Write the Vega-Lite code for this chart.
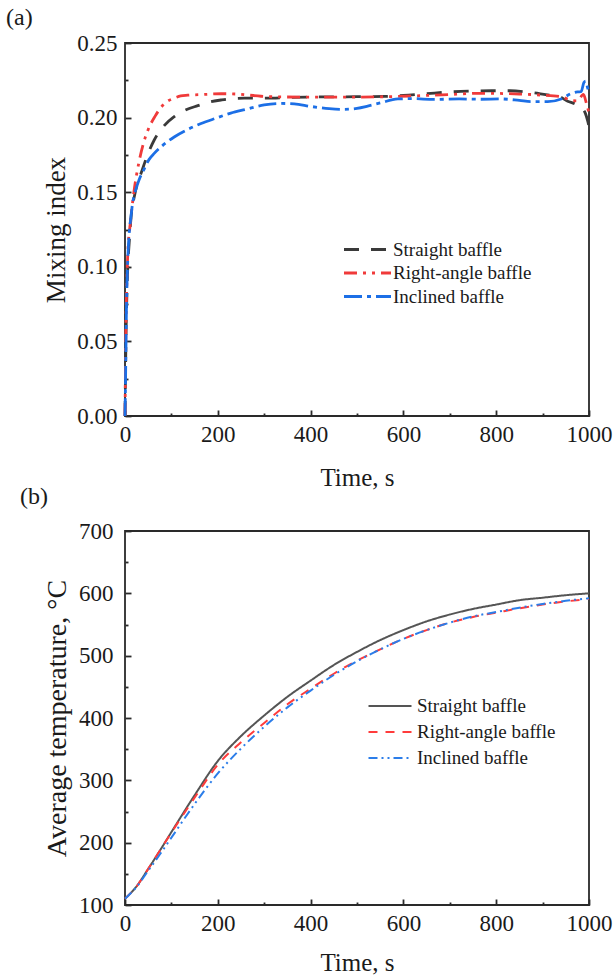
{
  "$schema": "https://vega.github.io/schema/vega-lite/v6.json",
  "background": "white",
  "padding": {"left": 5, "top": 5, "right": 5, "bottom": 5},
  "config": {
    "font": "Liberation Serif",
    "view": {"stroke": "#2a2a2a", "strokeWidth": 1.8},
    "axis": {
      "domain": false, "grid": false,
      "labelFont": "Liberation Serif", "labelFontSize": 23, "labelColor": "#1a1a1a",
      "titleFont": "Liberation Serif", "titleFontSize": 25, "titleFontWeight": "normal", "titleColor": "#1a1a1a",
      "tickColor": "#2a2a2a", "tickWidth": 1.8, "labelFlush": false, "labelOverlap": false
    },
    "legend": {
      "orient": "none", "title": null, "padding": 0,
      "labelFont": "Liberation Serif", "labelFontSize": 19, "labelColor": "#1a1a1a"
    },
    "title": {"font": "Liberation Serif", "fontSize": 24, "fontWeight": "normal", "color": "#1a1a1a"}
  },
  "datasets": {
    "mix": [
      {"baffle": "Straight baffle", "time": 0, "mixing": 0},
      {"baffle": "Straight baffle", "time": 1, "mixing": 0.025},
      {"baffle": "Straight baffle", "time": 2, "mixing": 0.05},
      {"baffle": "Straight baffle", "time": 4, "mixing": 0.08},
      {"baffle": "Straight baffle", "time": 6, "mixing": 0.1},
      {"baffle": "Straight baffle", "time": 9, "mixing": 0.116},
      {"baffle": "Straight baffle", "time": 13, "mixing": 0.133},
      {"baffle": "Straight baffle", "time": 20, "mixing": 0.147},
      {"baffle": "Straight baffle", "time": 28, "mixing": 0.157},
      {"baffle": "Straight baffle", "time": 35, "mixing": 0.163},
      {"baffle": "Straight baffle", "time": 45, "mixing": 0.172},
      {"baffle": "Straight baffle", "time": 63, "mixing": 0.185},
      {"baffle": "Straight baffle", "time": 80, "mixing": 0.193},
      {"baffle": "Straight baffle", "time": 106, "mixing": 0.2006},
      {"baffle": "Straight baffle", "time": 130, "mixing": 0.205},
      {"baffle": "Straight baffle", "time": 157, "mixing": 0.208},
      {"baffle": "Straight baffle", "time": 180, "mixing": 0.2103},
      {"baffle": "Straight baffle", "time": 207, "mixing": 0.2118},
      {"baffle": "Straight baffle", "time": 230, "mixing": 0.2127},
      {"baffle": "Straight baffle", "time": 257, "mixing": 0.213},
      {"baffle": "Straight baffle", "time": 307, "mixing": 0.213},
      {"baffle": "Straight baffle", "time": 350, "mixing": 0.2135},
      {"baffle": "Straight baffle", "time": 400, "mixing": 0.2138},
      {"baffle": "Straight baffle", "time": 500, "mixing": 0.214},
      {"baffle": "Straight baffle", "time": 560, "mixing": 0.2142},
      {"baffle": "Straight baffle", "time": 600, "mixing": 0.2148},
      {"baffle": "Straight baffle", "time": 650, "mixing": 0.216},
      {"baffle": "Straight baffle", "time": 700, "mixing": 0.2172},
      {"baffle": "Straight baffle", "time": 750, "mixing": 0.2178},
      {"baffle": "Straight baffle", "time": 790, "mixing": 0.218},
      {"baffle": "Straight baffle", "time": 830, "mixing": 0.218},
      {"baffle": "Straight baffle", "time": 870, "mixing": 0.217},
      {"baffle": "Straight baffle", "time": 918, "mixing": 0.215},
      {"baffle": "Straight baffle", "time": 933, "mixing": 0.2145},
      {"baffle": "Straight baffle", "time": 954, "mixing": 0.211},
      {"baffle": "Straight baffle", "time": 970, "mixing": 0.2092},
      {"baffle": "Straight baffle", "time": 983, "mixing": 0.2068},
      {"baffle": "Straight baffle", "time": 992, "mixing": 0.203},
      {"baffle": "Straight baffle", "time": 997, "mixing": 0.198},
      {"baffle": "Straight baffle", "time": 1000, "mixing": 0.194},

      {"baffle": "Right-angle baffle", "time": 0, "mixing": 0},
      {"baffle": "Right-angle baffle", "time": 1, "mixing": 0.03},
      {"baffle": "Right-angle baffle", "time": 2, "mixing": 0.06},
      {"baffle": "Right-angle baffle", "time": 4, "mixing": 0.09},
      {"baffle": "Right-angle baffle", "time": 7, "mixing": 0.115},
      {"baffle": "Right-angle baffle", "time": 10, "mixing": 0.125},
      {"baffle": "Right-angle baffle", "time": 13, "mixing": 0.134},
      {"baffle": "Right-angle baffle", "time": 20, "mixing": 0.152},
      {"baffle": "Right-angle baffle", "time": 30, "mixing": 0.17},
      {"baffle": "Right-angle baffle", "time": 40, "mixing": 0.183},
      {"baffle": "Right-angle baffle", "time": 50, "mixing": 0.192},
      {"baffle": "Right-angle baffle", "time": 65, "mixing": 0.201},
      {"baffle": "Right-angle baffle", "time": 78, "mixing": 0.207},
      {"baffle": "Right-angle baffle", "time": 92, "mixing": 0.211},
      {"baffle": "Right-angle baffle", "time": 106, "mixing": 0.213},
      {"baffle": "Right-angle baffle", "time": 120, "mixing": 0.2145},
      {"baffle": "Right-angle baffle", "time": 135, "mixing": 0.215},
      {"baffle": "Right-angle baffle", "time": 170, "mixing": 0.2155},
      {"baffle": "Right-angle baffle", "time": 207, "mixing": 0.216},
      {"baffle": "Right-angle baffle", "time": 240, "mixing": 0.2158},
      {"baffle": "Right-angle baffle", "time": 293, "mixing": 0.2143},
      {"baffle": "Right-angle baffle", "time": 350, "mixing": 0.2138},
      {"baffle": "Right-angle baffle", "time": 422, "mixing": 0.2137},
      {"baffle": "Right-angle baffle", "time": 500, "mixing": 0.2137},
      {"baffle": "Right-angle baffle", "time": 560, "mixing": 0.214},
      {"baffle": "Right-angle baffle", "time": 620, "mixing": 0.2145},
      {"baffle": "Right-angle baffle", "time": 700, "mixing": 0.2155},
      {"baffle": "Right-angle baffle", "time": 767, "mixing": 0.2163},
      {"baffle": "Right-angle baffle", "time": 850, "mixing": 0.2158},
      {"baffle": "Right-angle baffle", "time": 897, "mixing": 0.2151},
      {"baffle": "Right-angle baffle", "time": 940, "mixing": 0.214},
      {"baffle": "Right-angle baffle", "time": 962, "mixing": 0.2115},
      {"baffle": "Right-angle baffle", "time": 975, "mixing": 0.2112},
      {"baffle": "Right-angle baffle", "time": 988, "mixing": 0.2155},
      {"baffle": "Right-angle baffle", "time": 994, "mixing": 0.21},
      {"baffle": "Right-angle baffle", "time": 1000, "mixing": 0.203},

      {"baffle": "Inclined baffle", "time": 0, "mixing": 0},
      {"baffle": "Inclined baffle", "time": 1, "mixing": 0.02},
      {"baffle": "Inclined baffle", "time": 2, "mixing": 0.045},
      {"baffle": "Inclined baffle", "time": 3, "mixing": 0.07},
      {"baffle": "Inclined baffle", "time": 4, "mixing": 0.085},
      {"baffle": "Inclined baffle", "time": 6, "mixing": 0.105},
      {"baffle": "Inclined baffle", "time": 9, "mixing": 0.122},
      {"baffle": "Inclined baffle", "time": 13, "mixing": 0.134},
      {"baffle": "Inclined baffle", "time": 16.5, "mixing": 0.143},
      {"baffle": "Inclined baffle", "time": 20, "mixing": 0.148},
      {"baffle": "Inclined baffle", "time": 30, "mixing": 0.158},
      {"baffle": "Inclined baffle", "time": 42, "mixing": 0.166},
      {"baffle": "Inclined baffle", "time": 52, "mixing": 0.172},
      {"baffle": "Inclined baffle", "time": 63, "mixing": 0.176},
      {"baffle": "Inclined baffle", "time": 80, "mixing": 0.181},
      {"baffle": "Inclined baffle", "time": 106, "mixing": 0.187},
      {"baffle": "Inclined baffle", "time": 135, "mixing": 0.192},
      {"baffle": "Inclined baffle", "time": 164, "mixing": 0.196},
      {"baffle": "Inclined baffle", "time": 195, "mixing": 0.1995},
      {"baffle": "Inclined baffle", "time": 228, "mixing": 0.203},
      {"baffle": "Inclined baffle", "time": 260, "mixing": 0.2055},
      {"baffle": "Inclined baffle", "time": 300, "mixing": 0.2085},
      {"baffle": "Inclined baffle", "time": 335, "mixing": 0.2095},
      {"baffle": "Inclined baffle", "time": 365, "mixing": 0.2092},
      {"baffle": "Inclined baffle", "time": 400, "mixing": 0.2075},
      {"baffle": "Inclined baffle", "time": 440, "mixing": 0.206},
      {"baffle": "Inclined baffle", "time": 470, "mixing": 0.2055},
      {"baffle": "Inclined baffle", "time": 500, "mixing": 0.2062},
      {"baffle": "Inclined baffle", "time": 523, "mixing": 0.2077},
      {"baffle": "Inclined baffle", "time": 550, "mixing": 0.2098},
      {"baffle": "Inclined baffle", "time": 588, "mixing": 0.2125},
      {"baffle": "Inclined baffle", "time": 620, "mixing": 0.2127},
      {"baffle": "Inclined baffle", "time": 666, "mixing": 0.2122},
      {"baffle": "Inclined baffle", "time": 720, "mixing": 0.2125},
      {"baffle": "Inclined baffle", "time": 767, "mixing": 0.2123},
      {"baffle": "Inclined baffle", "time": 810, "mixing": 0.2125},
      {"baffle": "Inclined baffle", "time": 850, "mixing": 0.2115},
      {"baffle": "Inclined baffle", "time": 875, "mixing": 0.2107},
      {"baffle": "Inclined baffle", "time": 911, "mixing": 0.2107},
      {"baffle": "Inclined baffle", "time": 940, "mixing": 0.2125},
      {"baffle": "Inclined baffle", "time": 961, "mixing": 0.216},
      {"baffle": "Inclined baffle", "time": 975, "mixing": 0.2172},
      {"baffle": "Inclined baffle", "time": 983, "mixing": 0.2174},
      {"baffle": "Inclined baffle", "time": 989, "mixing": 0.2235},
      {"baffle": "Inclined baffle", "time": 993, "mixing": 0.2245},
      {"baffle": "Inclined baffle", "time": 997, "mixing": 0.22},
      {"baffle": "Inclined baffle", "time": 1000, "mixing": 0.217}
    ],
    "temp": [
      {"baffle": "Straight baffle", "time": 0, "temperature": 110},
      {"baffle": "Straight baffle", "time": 25, "temperature": 130},
      {"baffle": "Straight baffle", "time": 50, "temperature": 158},
      {"baffle": "Straight baffle", "time": 75, "temperature": 187},
      {"baffle": "Straight baffle", "time": 100, "temperature": 217},
      {"baffle": "Straight baffle", "time": 150, "temperature": 276},
      {"baffle": "Straight baffle", "time": 200, "temperature": 331},
      {"baffle": "Straight baffle", "time": 250, "temperature": 371},
      {"baffle": "Straight baffle", "time": 300, "temperature": 404},
      {"baffle": "Straight baffle", "time": 350, "temperature": 434},
      {"baffle": "Straight baffle", "time": 400, "temperature": 460},
      {"baffle": "Straight baffle", "time": 450, "temperature": 485},
      {"baffle": "Straight baffle", "time": 500, "temperature": 506},
      {"baffle": "Straight baffle", "time": 550, "temperature": 525},
      {"baffle": "Straight baffle", "time": 600, "temperature": 541},
      {"baffle": "Straight baffle", "time": 650, "temperature": 555},
      {"baffle": "Straight baffle", "time": 700, "temperature": 566},
      {"baffle": "Straight baffle", "time": 750, "temperature": 575},
      {"baffle": "Straight baffle", "time": 800, "temperature": 582},
      {"baffle": "Straight baffle", "time": 850, "temperature": 589},
      {"baffle": "Straight baffle", "time": 900, "temperature": 593},
      {"baffle": "Straight baffle", "time": 950, "temperature": 597},
      {"baffle": "Straight baffle", "time": 1000, "temperature": 600},

      {"baffle": "Right-angle baffle", "time": 0, "temperature": 110},
      {"baffle": "Right-angle baffle", "time": 25, "temperature": 130},
      {"baffle": "Right-angle baffle", "time": 50, "temperature": 158},
      {"baffle": "Right-angle baffle", "time": 75, "temperature": 187},
      {"baffle": "Right-angle baffle", "time": 100, "temperature": 216},
      {"baffle": "Right-angle baffle", "time": 150, "temperature": 272},
      {"baffle": "Right-angle baffle", "time": 200, "temperature": 325},
      {"baffle": "Right-angle baffle", "time": 250, "temperature": 361},
      {"baffle": "Right-angle baffle", "time": 300, "temperature": 392},
      {"baffle": "Right-angle baffle", "time": 350, "temperature": 422},
      {"baffle": "Right-angle baffle", "time": 400, "temperature": 447},
      {"baffle": "Right-angle baffle", "time": 450, "temperature": 471},
      {"baffle": "Right-angle baffle", "time": 500, "temperature": 492},
      {"baffle": "Right-angle baffle", "time": 550, "temperature": 510},
      {"baffle": "Right-angle baffle", "time": 600, "temperature": 527},
      {"baffle": "Right-angle baffle", "time": 650, "temperature": 541},
      {"baffle": "Right-angle baffle", "time": 700, "temperature": 553},
      {"baffle": "Right-angle baffle", "time": 750, "temperature": 562},
      {"baffle": "Right-angle baffle", "time": 800, "temperature": 569},
      {"baffle": "Right-angle baffle", "time": 850, "temperature": 576},
      {"baffle": "Right-angle baffle", "time": 900, "temperature": 582},
      {"baffle": "Right-angle baffle", "time": 950, "temperature": 587},
      {"baffle": "Right-angle baffle", "time": 1000, "temperature": 591},

      {"baffle": "Inclined baffle", "time": 0, "temperature": 110},
      {"baffle": "Inclined baffle", "time": 25, "temperature": 129},
      {"baffle": "Inclined baffle", "time": 50, "temperature": 155},
      {"baffle": "Inclined baffle", "time": 75, "temperature": 181},
      {"baffle": "Inclined baffle", "time": 100, "temperature": 208},
      {"baffle": "Inclined baffle", "time": 150, "temperature": 262},
      {"baffle": "Inclined baffle", "time": 200, "temperature": 311},
      {"baffle": "Inclined baffle", "time": 250, "temperature": 351},
      {"baffle": "Inclined baffle", "time": 300, "temperature": 386},
      {"baffle": "Inclined baffle", "time": 350, "temperature": 417},
      {"baffle": "Inclined baffle", "time": 400, "temperature": 444},
      {"baffle": "Inclined baffle", "time": 450, "temperature": 469},
      {"baffle": "Inclined baffle", "time": 500, "temperature": 491},
      {"baffle": "Inclined baffle", "time": 550, "temperature": 510},
      {"baffle": "Inclined baffle", "time": 600, "temperature": 527},
      {"baffle": "Inclined baffle", "time": 650, "temperature": 541},
      {"baffle": "Inclined baffle", "time": 700, "temperature": 553},
      {"baffle": "Inclined baffle", "time": 750, "temperature": 563},
      {"baffle": "Inclined baffle", "time": 800, "temperature": 570},
      {"baffle": "Inclined baffle", "time": 850, "temperature": 577},
      {"baffle": "Inclined baffle", "time": 900, "temperature": 583},
      {"baffle": "Inclined baffle", "time": 950, "temperature": 588},
      {"baffle": "Inclined baffle", "time": 1000, "temperature": 592}
    ]
  },
  "bounds": "flush",
  "spacing": 115,
  "resolve": {
    "scale": {"color": "independent", "strokeDash": "independent"},
    "legend": {"color": "independent", "strokeDash": "independent"}
  },
  "vconcat": [
    {
      "width": 464,
      "height": 373,
      "title": {"text": "(a)", "anchor": "start", "frame": "group", "dx": -119, "offset": -17, "baseline": "alphabetic"},
      "data": {"name": "mix"},
      "mark": {"type": "line", "strokeWidth": 2.8, "interpolate": "monotone"},
      "encoding": {
        "x": {
          "field": "time", "type": "quantitative",
          "scale": {"domain": [0, 1000], "nice": false},
          "axis": {
            "title": "Time, s",
            "values": [0, 100, 200, 300, 400, 500, 600, 700, 800, 900, 1000],
            "labelExpr": "datum.value % 200 === 0 ? format(datum.value, 'd') : ''",
            "tickSize": {"condition": {"test": "datum.value % 200 !== 0", "value": -3}, "value": -6},
            "labelPadding": 13,
            "titlePadding": 16
          }
        },
        "y": {
          "field": "mixing", "type": "quantitative",
          "scale": {"domain": [0, 0.25], "nice": false},
          "axis": {
            "title": "Mixing index",
            "titleFontSize": 27,
            "values": [0, 0.025, 0.05, 0.075, 0.1, 0.125, 0.15, 0.175, 0.2, 0.225, 0.25],
            "labelExpr": "round(datum.value * 1000) % 50 === 0 ? format(datum.value, '.2f') : ''",
            "tickSize": {"condition": {"test": "round(datum.value * 1000) % 50 !== 0", "value": -3}, "value": -6},
            "labelPadding": 14,
            "titlePadding": 6
          }
        },
        "color": {
          "field": "baffle", "type": "nominal",
          "scale": {"domain": ["Straight baffle", "Right-angle baffle", "Inclined baffle"], "range": ["#3a3a3a", "#f03a3a", "#1c6fe6"]},
          "legend": {"legendX": 231, "legendY": 195, "symbolType": "M-2.35,0L2.35,0", "symbolSize": 400, "symbolStrokeWidth": 2.8, "labelOffset": 14, "rowPadding": 1.5}
        },
        "strokeDash": {
          "field": "baffle", "type": "nominal",
          "scale": {"domain": ["Straight baffle", "Right-angle baffle", "Inclined baffle"], "range": [[15, 12], [13, 6, 3, 6, 3, 6], [18, 5, 4, 5]]},
          "legend": {"legendX": 231, "legendY": 195, "symbolType": "M-2.35,0L2.35,0", "symbolSize": 400, "symbolStrokeWidth": 2.8, "labelOffset": 14, "rowPadding": 1.5}
        }
      }
    },
    {
      "width": 464,
      "height": 374,
      "title": {"text": "(b)", "anchor": "start", "frame": "group", "dx": -105, "offset": -8, "baseline": "alphabetic"},
      "data": {"name": "temp"},
      "mark": {"type": "line", "strokeWidth": 2, "interpolate": "monotone"},
      "encoding": {
        "x": {
          "field": "time", "type": "quantitative",
          "scale": {"domain": [0, 1000], "nice": false},
          "axis": {
            "title": "Time, s",
            "values": [0, 100, 200, 300, 400, 500, 600, 700, 800, 900, 1000],
            "labelExpr": "datum.value % 200 === 0 ? format(datum.value, 'd') : ''",
            "tickSize": {"condition": {"test": "datum.value % 200 !== 0", "value": -3}, "value": -6},
            "labelPadding": 13,
            "titlePadding": 12
          }
        },
        "y": {
          "field": "temperature", "type": "quantitative",
          "scale": {"domain": [100, 700], "nice": false},
          "axis": {
            "title": "Average temperature, °C",
            "titleFontSize": 28,
            "values": [100, 150, 200, 250, 300, 350, 400, 450, 500, 550, 600, 650, 700],
            "labelExpr": "datum.value % 100 === 0 ? format(datum.value, 'd') : ''",
            "tickSize": {"condition": {"test": "datum.value % 100 !== 0", "value": -3}, "value": -6},
            "labelPadding": 18,
            "titlePadding": 7
          }
        },
        "color": {
          "field": "baffle", "type": "nominal",
          "scale": {"domain": ["Straight baffle", "Right-angle baffle", "Inclined baffle"], "range": ["#555555", "#ff3b3b", "#2b7de9"]},
          "legend": {"legendX": 254, "legendY": 164, "symbolType": "M-2.15,0L2.15,0", "symbolSize": 400, "symbolStrokeWidth": 2, "labelOffset": 16, "rowPadding": 5}
        },
        "strokeDash": {
          "field": "baffle", "type": "nominal",
          "scale": {"domain": ["Straight baffle", "Right-angle baffle", "Inclined baffle"], "range": [[1, 0], [9, 8], [9, 4, 2, 4, 2, 4]]},
          "legend": {"legendX": 254, "legendY": 164, "symbolType": "M-2.15,0L2.15,0", "symbolSize": 400, "symbolStrokeWidth": 2, "labelOffset": 16, "rowPadding": 5}
        }
      }
    }
  ]
}
